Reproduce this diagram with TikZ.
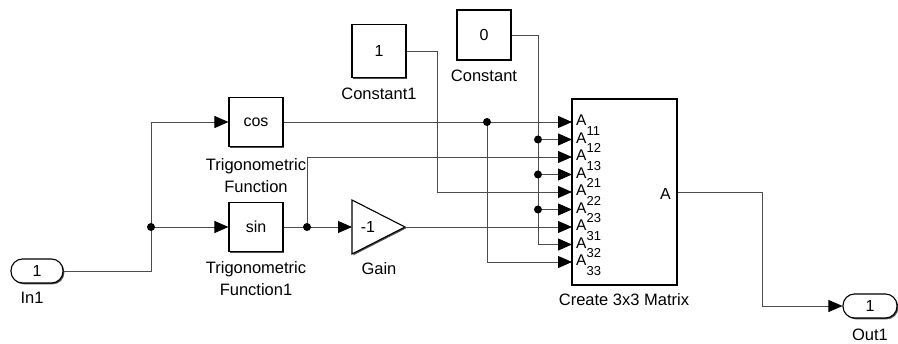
\documentclass[tikz,border=0pt]{standalone}
\usepackage{fontspec}
\setmainfont{Liberation Sans}
\usetikzlibrary{arrows.meta,shadows}

\tikzset{
  blk/.style={draw,fill=white,line width=1.1pt,inner sep=0pt,
    drop shadow={shadow xshift=1.3pt,shadow yshift=-1.3pt,opacity=0.7,fill=black}},
  pill/.style={blk,rounded corners=11.5pt,minimum width=52pt,minimum height=24pt},
  sig/.style={draw=black!70,line width=0.9pt},
  tip/.style={sig,-{Triangle[length=14pt,width=12pt,black]}},
  lbl/.style={align=center,inner sep=0pt,font=\fontsize{16.5}{22}\selectfont},
}

\begin{document}
\begin{tikzpicture}[x=1pt,y=-1pt,every node/.style={font=\fontsize{16}{20}\selectfont}]
      \useasboundingbox (0,0) rectangle (898,344);
      % blocks
      \node[pill] (in1) at (37,271) {1};
      \node[pill,minimum width=54pt] (out1) at (870,306) {1};
      \node[blk,minimum width=54pt,minimum height=49pt] (cos) at (256,122) {cos};
      \node[blk,minimum width=54pt,minimum height=49pt] (sin) at (256,227) {sin};
      \node[blk,minimum width=54pt,minimum height=53pt] (c1) at (379,51) {1};
      \node[blk,minimum width=54pt,minimum height=50pt] (c0) at (484,35) {0};
      \node[blk,minimum width=105pt,minimum height=186pt] (mat) at (624.5,192) {};
      \path[blk] (352,200) -- (405,227) -- (352,254) -- cycle;
      \coordinate (gin) at (352,227);
      \coordinate (gout) at (405,227);
      \node (gain) at (368,227) {-1};
      % labels
      \node[lbl] (l_in1) at (32,298) {In1};
      \node[lbl] (l_out1) at (870,334.5) {Out1};
      \node[lbl] (l_cos) at (256,176) {Trigonometric\\Function};
      \node[lbl] (l_sin) at (256,279) {Trigonometric\\Function1};
      \node[lbl] (l_gain) at (379,269) {Gain};
      \node[lbl] (l_c1) at (379,94) {Constant1};
      \node[lbl] (l_c0) at (484,76) {Constant};
      \node[lbl] (l_mat) at (624,300) {Create 3x3 Matrix};
      \node[anchor=base east,inner sep=0pt,font=\fontsize{16}{16}\selectfont] (l_a) at (671,200) {A};
      % input ports of the matrix block
      \foreach \i/\n in {0/11,1/12,2/13,3/21,4/22,5/23,6/31,7/32,8/33}{
        \coordinate (p\n) at (572,122+17.5*\i);
        \node[anchor=base west,inner sep=0pt,font=\fontsize{15.5}{16}\selectfont] (a\n)
          at (576,126+17.5*\i) {A\raisebox{-9.5pt}{\fontsize{13}{13}\selectfont\n}};
      }
      % branch points and bends
      \coordinate (j1) at (151,227);
      \coordinate (j2) at (487,122);
      \coordinate (j3) at (307,227);
      \coordinate (j4) at (538,139.5);
      \coordinate (j5) at (538,174.5);
      \coordinate (j6) at (538,209.5);
      \coordinate (k1) at (437,192);
      \coordinate (k2) at (538,244.5);
      \coordinate (k3) at (762,306);
      % signals
      \draw[sig] (in1.east) -| (j1);
      \draw[tip] (j1) |- (cos.west);
      \draw[tip] (j1) -- (sin.west);
      \draw[tip] (cos.east) -- (p11);
      \draw[tip] (j2) |- (p33);
      \draw[tip] (sin.east) -- (gin);
      \draw[tip] (j3) |- (p13);
      \draw[tip] (gout) -- (p31);
      \draw[tip] (c1.east) -| (k1) -- (p22);
      \draw[tip] (c0.east) -| (k2) -- (p32);
      \draw[tip] (j4) -- (p12);
      \draw[tip] (j5) -- (p21);
      \draw[tip] (j6) -- (p23);
      \draw[tip] (mat.east) -| (k3) -- (out1.west);
      \foreach \j in {j1,j2,j3,j4,j5,j6}
        \fill (\j) circle (4pt);
    \end{tikzpicture}
\end{document}
